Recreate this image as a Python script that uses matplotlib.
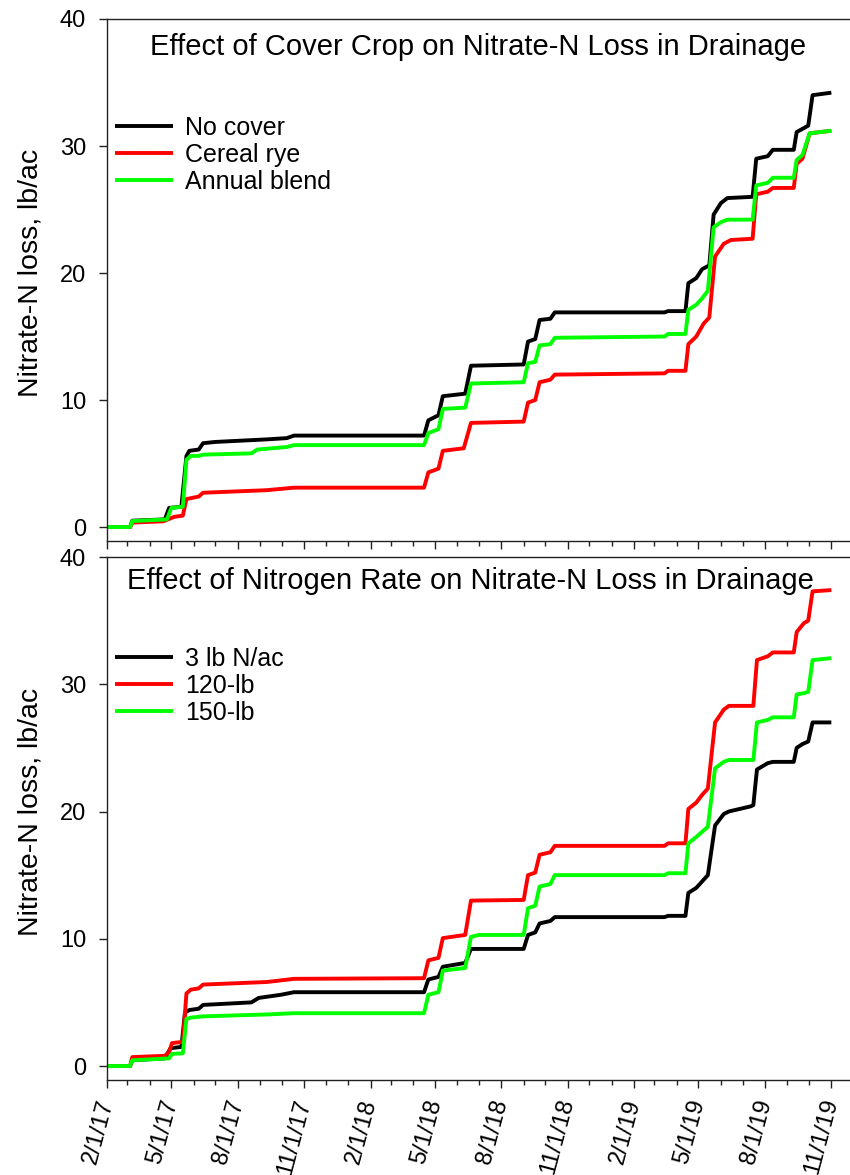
import matplotlib
matplotlib.use('Agg')
import matplotlib.pyplot as plt
import matplotlib.dates as mdates
import pandas as pd

plt.rcParams['font.family'] = ['Liberation Sans', 'DejaVu Sans']

# ---- top panel: cover crop ----
nocover_dates = ['2017-02-01', '2017-03-05', '2017-03-08', '2017-04-22', '2017-04-28', '2017-05-15',
                 '2017-05-22', '2017-05-26', '2017-06-08', '2017-06-14', '2017-07-01', '2017-09-10',
                 '2017-10-08', '2017-10-18', '2018-04-16', '2018-04-22', '2018-05-06', '2018-05-12',
                 '2018-06-12', '2018-06-20', '2018-09-01', '2018-09-07', '2018-09-17', '2018-09-23',
                 '2018-10-08', '2018-10-14', '2019-03-15', '2019-03-20', '2019-04-13', '2019-04-17',
                 '2019-04-28', '2019-05-06', '2019-05-16', '2019-05-22', '2019-06-01', '2019-06-10',
                 '2019-07-15', '2019-07-20', '2019-08-05', '2019-08-12', '2019-09-10', '2019-09-14',
                 '2019-09-30', '2019-10-06', '2019-11-01']
nocover_vals = [0, 0, 0.5, 0.6, 1.5, 1.6,
                5.6, 6.0, 6.1, 6.6, 6.7, 6.9,
                7.0, 7.2, 7.2, 8.4, 8.8, 10.3,
                10.5, 12.7, 12.8, 14.6, 14.8, 16.3,
                16.4, 16.9, 16.9, 17.0, 17.0, 19.2,
                19.6, 20.3, 20.6, 24.6, 25.5, 25.9,
                26.0, 29.0, 29.2, 29.7, 29.7, 31.1,
                31.6, 34.0, 34.2]

rye_dates = ['2017-02-01', '2017-03-05', '2017-03-08', '2017-04-20', '2017-05-05', '2017-05-17',
             '2017-05-22', '2017-06-08', '2017-06-14', '2017-09-10', '2017-10-18', '2018-04-16',
             '2018-04-22', '2018-05-06', '2018-05-12', '2018-06-10', '2018-06-20', '2018-09-01',
             '2018-09-07', '2018-09-17', '2018-09-23', '2018-10-08', '2018-10-14', '2019-03-15',
             '2019-03-20', '2019-04-13', '2019-04-17', '2019-04-28', '2019-05-08', '2019-05-16',
             '2019-05-24', '2019-06-05', '2019-06-15', '2019-07-15', '2019-07-20', '2019-08-05',
             '2019-08-12', '2019-09-10', '2019-09-14', '2019-09-22', '2019-10-02', '2019-11-01']
rye_vals = [0, 0, 0.35, 0.45, 0.8, 0.9,
            2.2, 2.4, 2.7, 2.9, 3.1, 3.1,
            4.3, 4.6, 6.0, 6.2, 8.2, 8.3,
            9.8, 10.0, 11.4, 11.6, 12.0, 12.1,
            12.3, 12.3, 14.4, 15.0, 16.0, 16.5,
            21.3, 22.3, 22.6, 22.7, 26.2, 26.4,
            26.7, 26.7, 28.6, 29.0, 31.0, 31.2]

blend_dates = ['2017-02-01', '2017-03-05', '2017-03-08', '2017-04-25', '2017-05-01', '2017-05-17',
               '2017-05-22', '2017-05-28', '2017-06-08', '2017-06-14', '2017-08-20', '2017-08-28',
               '2017-10-08', '2017-10-18', '2018-04-16', '2018-04-22', '2018-05-06', '2018-05-12',
               '2018-06-12', '2018-06-20', '2018-09-01', '2018-09-07', '2018-09-17', '2018-09-23',
               '2018-10-08', '2018-10-14', '2019-03-15', '2019-03-20', '2019-04-13', '2019-04-17',
               '2019-04-28', '2019-05-06', '2019-05-14', '2019-05-22', '2019-06-01', '2019-06-10',
               '2019-07-15', '2019-07-20', '2019-08-05', '2019-08-12', '2019-09-10', '2019-09-14',
               '2019-09-22', '2019-10-02', '2019-11-01']
blend_vals = [0, 0, 0.47, 0.6, 1.5, 1.6,
              5.3, 5.6, 5.6, 5.7, 5.8, 6.1,
              6.3, 6.45, 6.45, 7.4, 7.7, 9.3,
              9.4, 11.3, 11.4, 12.9, 13.0, 14.3,
              14.4, 14.9, 15.0, 15.2, 15.2, 17.1,
              17.5, 18.0, 18.6, 23.6, 24.0, 24.2,
              24.2, 26.9, 27.1, 27.5, 27.5, 28.9,
              29.3, 31.0, 31.2]

# ---- bottom panel: nitrogen rate ----
n3_dates = ['2017-02-01', '2017-03-05', '2017-03-08', '2017-04-22', '2017-04-30', '2017-05-15',
            '2017-05-20', '2017-05-26', '2017-06-08', '2017-06-14', '2017-08-20', '2017-08-30',
            '2017-09-30', '2017-10-18', '2018-04-16', '2018-04-22', '2018-05-06', '2018-05-12',
            '2018-06-12', '2018-06-20', '2018-09-01', '2018-09-07', '2018-09-17', '2018-09-23',
            '2018-10-08', '2018-10-14', '2019-03-15', '2019-03-20', '2019-04-13', '2019-04-17',
            '2019-04-28', '2019-05-06', '2019-05-14', '2019-05-24', '2019-06-05', '2019-06-12',
            '2019-07-12', '2019-07-16', '2019-07-21', '2019-08-05', '2019-08-12', '2019-09-10',
            '2019-09-14', '2019-09-22', '2019-09-30', '2019-10-06', '2019-11-01']
n3_vals = [0, 0, 0.45, 0.6, 1.4, 1.5,
           4.2, 4.4, 4.5, 4.8, 5.0, 5.35,
           5.6, 5.8, 5.8, 6.8, 7.0, 7.8,
           8.1, 9.2, 9.2, 10.3, 10.5, 11.2,
           11.4, 11.7, 11.7, 11.8, 11.8, 13.6,
           14.0, 14.5, 15.0, 18.9, 19.8, 20.0,
           20.4, 20.5, 23.3, 23.8, 23.9, 23.9,
           25.0, 25.3, 25.5, 27.0, 27.0]

n120_dates = ['2017-02-01', '2017-03-05', '2017-03-08', '2017-04-22', '2017-04-28', '2017-05-02',
              '2017-05-17', '2017-05-22', '2017-05-28', '2017-06-08', '2017-06-14', '2017-09-10',
              '2017-10-18', '2018-04-16', '2018-04-22', '2018-05-06', '2018-05-12', '2018-06-12',
              '2018-06-20', '2018-09-01', '2018-09-07', '2018-09-17', '2018-09-23', '2018-10-08',
              '2018-10-14', '2019-03-15', '2019-03-20', '2019-04-13', '2019-04-17', '2019-04-28',
              '2019-05-06', '2019-05-14', '2019-05-24', '2019-06-05', '2019-06-12', '2019-07-16',
              '2019-07-21', '2019-08-05', '2019-08-12', '2019-09-10', '2019-09-14', '2019-09-24',
              '2019-09-30', '2019-10-06', '2019-11-01']
n120_vals = [0, 0, 0.7, 0.8, 1.1, 1.8,
             1.9, 5.7, 6.0, 6.1, 6.4, 6.6,
             6.85, 6.9, 8.3, 8.5, 10.05, 10.3,
             13.0, 13.05, 15.0, 15.2, 16.6, 16.8,
             17.3, 17.3, 17.5, 17.5, 20.2, 20.7,
             21.3, 21.8, 27.0, 28.0, 28.3, 28.3,
             31.9, 32.2, 32.5, 32.5, 34.1, 34.8,
             35.0, 37.3, 37.4]

n150_dates = ['2017-02-01', '2017-03-05', '2017-03-08', '2017-04-28', '2017-05-02', '2017-05-17',
              '2017-05-22', '2017-05-28', '2017-06-14', '2017-09-10', '2017-10-18', '2018-04-16',
              '2018-04-22', '2018-05-06', '2018-05-12', '2018-06-12', '2018-06-20', '2018-07-01',
              '2018-09-01', '2018-09-07', '2018-09-17', '2018-09-23', '2018-10-08', '2018-10-14',
              '2019-03-15', '2019-03-20', '2019-04-13', '2019-04-17', '2019-04-28', '2019-05-06',
              '2019-05-14', '2019-05-24', '2019-06-05', '2019-06-12', '2019-07-16', '2019-07-21',
              '2019-08-05', '2019-08-12', '2019-09-10', '2019-09-14', '2019-09-24', '2019-09-30',
              '2019-10-06', '2019-11-01']
n150_vals = [0, 0, 0.45, 0.6, 0.95, 1.0,
             3.7, 3.8, 3.9, 4.05, 4.15, 4.15,
             5.6, 5.8, 7.5, 7.7, 10.15, 10.3,
             10.3, 12.4, 12.6, 14.1, 14.3, 15.0,
             15.0, 15.15, 15.15, 17.5, 18.0, 18.4,
             18.8, 23.4, 23.9, 24.05, 24.05, 27.0,
             27.2, 27.4, 27.4, 29.2, 29.3, 29.4,
             31.9, 32.05]

tick_dates = ['2017-02-01', '2017-05-01', '2017-08-01', '2017-11-01', '2018-02-01', '2018-05-01',
              '2018-08-01', '2018-11-01', '2019-02-01', '2019-05-01', '2019-08-01', '2019-11-01']
tick_labels = ['2/1/17', '5/1/17', '8/1/17', '11/1/17', '2/1/18', '5/1/18',
               '8/1/18', '11/1/18', '2/1/19', '5/1/19', '8/1/19', '11/1/19']


def draw_panel(ax, series, title, title_x, title_y, legend_y, show_labels):
    for dates, vals, color, label in series:
        ax.plot(pd.to_datetime(dates), vals, color=color, lw=2.8, label=label,
                solid_joinstyle='round', solid_capstyle='butt')
    ax.set_xlim(pd.Timestamp('2017-02-01'), pd.Timestamp('2019-12-01'))
    ax.set_ylim(-1.1, 40)
    ax.set_yticks([0, 10, 20, 30, 40])
    ax.set_xticks(pd.to_datetime(tick_dates))
    if show_labels:
        ax.set_xticklabels(tick_labels, rotation=75, ha='right', va='center',
                           rotation_mode='anchor', fontsize=17)
    else:
        ax.set_xticklabels([])
    ax.xaxis.set_minor_locator(mdates.MonthLocator())
    ax.tick_params(axis='both', which='major', direction='out', length=6, width=1.0,
                   labelsize=17, color='#222222')
    ax.tick_params(axis='x', which='minor', direction='out', length=3.5, width=1.0,
                   color='#222222')
    ax.tick_params(axis='x', which='major', pad=8)
    ax.tick_params(axis='y', which='major', pad=9)
    for sp in ax.spines.values():
        sp.set_linewidth(1.0)
        sp.set_color('#222222')
    ax.set_ylabel('Nitrate-N loss, lb/ac', fontsize=20.5)
    ax.yaxis.set_label_coords(-0.085, 0.513)
    ax.text(title_x, title_y, title, transform=ax.transAxes, ha='center', va='center',
            fontsize=21)
    ax.legend(loc='upper left', bbox_to_anchor=(-0.003, legend_y), borderaxespad=0,
              frameon=False, fontsize=18, handlelength=2.32, handletextpad=0.48,
              labelspacing=0.12)


fig = plt.figure(figsize=(8.5, 11.75), dpi=100)
ax1 = fig.add_axes([107 / 850, 1 - 541 / 1175, 746 / 850, 522 / 1175])
ax2 = fig.add_axes([107 / 850, 1 - 1080 / 1175, 746 / 850, 523 / 1175])

draw_panel(ax1,
           [(nocover_dates, nocover_vals, 'black', 'No cover'),
            (rye_dates, rye_vals, '#ff0000', 'Cereal rye'),
            (blend_dates, blend_vals, '#00ff00', 'Annual blend')],
           'Effect of Cover Crop on Nitrate-N Loss in Drainage', 0.497, 0.946, 0.833, False)

draw_panel(ax2,
           [(n3_dates, n3_vals, 'black', '3 lb N/ac'),
            (n120_dates, n120_vals, '#ff0000', '120-lb'),
            (n150_dates, n150_vals, '#00ff00', '150-lb')],
           'Effect of Nitrogen Rate on Nitrate-N Loss in Drainage', 0.487, 0.954, 0.847, True)

fig.savefig('out.png', dpi=100, facecolor='white')
